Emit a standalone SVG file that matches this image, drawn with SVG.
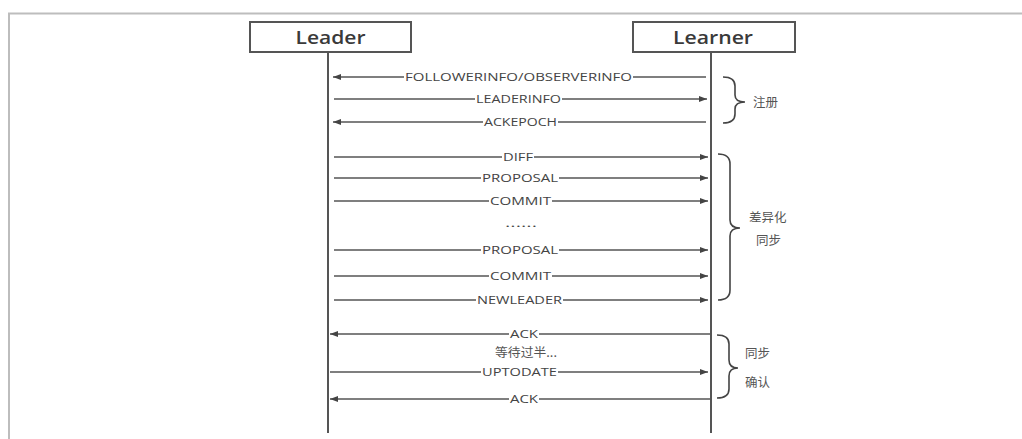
<svg xmlns="http://www.w3.org/2000/svg" width="1022" height="439" viewBox="0 0 1022 439">
<style>
.frame{fill:none;stroke:#bdbdbd;stroke-width:2}
.box{fill:#fff;stroke:#555;stroke-width:2}
.hdr{font-family:"Open Sans","Liberation Sans",sans-serif;font-size:18px;font-weight:600;fill:#3a3a3a;text-anchor:middle}
.life{stroke:#555;stroke-width:2}
.msg{fill:none;stroke:#555;stroke-width:1.4}
.lbl{font-family:"Open Sans","Liberation Sans",sans-serif;font-size:11.5px;fill:#444;text-anchor:middle}
.cn{font-family:"Noto Sans CJK SC","Noto Sans",sans-serif;font-size:12.5px;fill:#555}
.brace{fill:none;stroke:#444;stroke-width:1.6}
</style>
<defs>
<marker id="ah" markerUnits="userSpaceOnUse" markerWidth="9" markerHeight="7" refX="8" refY="3.5" orient="auto">
<path d="M0,0.5 L8,3.5 L0,6.5 z" fill="#444"/>
</marker>
</defs>
<rect width="1022" height="439" fill="#fff"/>
<path class="frame" d="M9,439 V13.5 H1022"/>

<g id="leader">
<rect class="box" x="250" y="22" width="161" height="30"/>
<text class="hdr" x="330.5" y="44" textLength="70" lengthAdjust="spacingAndGlyphs">Leader</text>
<line class="life" x1="328" y1="52" x2="328" y2="433"/>
</g>
<g id="learner">
<rect class="box" x="633" y="22" width="162" height="30"/>
<text class="hdr" x="713" y="44" textLength="80" lengthAdjust="spacingAndGlyphs">Learner</text>
<line class="life" x1="711" y1="52" x2="711" y2="433"/>
</g>

<g id="connectors">
<path class="msg" marker-end="url(#ah)" d="M706,77 H633 M404,77 H333"/>
<path class="msg" marker-end="url(#ah)" d="M334,99 H475 M562,99 H707"/>
<path class="msg" marker-end="url(#ah)" d="M706,122 H558 M483,122 H333"/>
<path class="msg" marker-end="url(#ah)" d="M334,157 H502 M534,157 H708"/>
<path class="msg" marker-end="url(#ah)" d="M334,178 H481 M559,178 H708"/>
<path class="msg" marker-end="url(#ah)" d="M334,201 H489 M552,201 H708"/>
<path class="msg" marker-end="url(#ah)" d="M334,250 H481 M559,250 H708"/>
<path class="msg" marker-end="url(#ah)" d="M334,276 H489 M552,276 H708"/>
<path class="msg" marker-end="url(#ah)" d="M334,300 H476 M563,300 H708"/>
<path class="msg" marker-end="url(#ah)" d="M710,334 H539 M509,334 H330"/>
<path class="msg" marker-end="url(#ah)" d="M330,372 H481 M558,372 H708"/>
<path class="msg" marker-end="url(#ah)" d="M710,399 H539 M509,399 H330"/>
</g>

<g id="labels">
<text class="lbl" x="518.5" y="81" textLength="227" lengthAdjust="spacingAndGlyphs">FOLLOWERINFO/OBSERVERINFO</text>
<text class="lbl" x="518.5" y="103" textLength="85" lengthAdjust="spacingAndGlyphs">LEADERINFO</text>
<text class="lbl" x="520.5" y="126" textLength="73" lengthAdjust="spacingAndGlyphs">ACKEPOCH</text>
<text class="lbl" x="518" y="161" textLength="30" lengthAdjust="spacingAndGlyphs">DIFF</text>
<text class="lbl" x="520" y="182" textLength="76" lengthAdjust="spacingAndGlyphs">PROPOSAL</text>
<text class="lbl" x="520.5" y="205" textLength="61" lengthAdjust="spacingAndGlyphs">COMMIT</text>
<text class="lbl" x="521" y="227" textLength="32" lengthAdjust="spacingAndGlyphs">......</text>
<text class="lbl" x="520" y="254" textLength="76" lengthAdjust="spacingAndGlyphs">PROPOSAL</text>
<text class="lbl" x="520.5" y="280" textLength="61" lengthAdjust="spacingAndGlyphs">COMMIT</text>
<text class="lbl" x="519.5" y="304" textLength="85" lengthAdjust="spacingAndGlyphs">NEWLEADER</text>
<text class="lbl" x="524" y="338" textLength="28" lengthAdjust="spacingAndGlyphs">ACK</text>
<text class="cn" x="526" y="357" text-anchor="middle" textLength="62" lengthAdjust="spacingAndGlyphs">等待过半...</text>
<text class="lbl" x="519.5" y="376" textLength="75" lengthAdjust="spacingAndGlyphs">UPTODATE</text>
<text class="lbl" x="524" y="403" textLength="28" lengthAdjust="spacingAndGlyphs">ACK</text>
</g>

<g id="brace-register">
<path class="brace" d="M723,77 Q735,77 735,86 V95 Q735,102 745,102 Q735,102 735,109 V114 Q735,123 723,123"/>
<text class="cn" x="753" y="107">注册</text>
</g>
<g id="brace-diffsync">
<path class="brace" d="M718,154 Q730,154 730,164 V220 Q730,228 740,228 Q730,228 730,236 V290 Q730,300 718,300"/>
<text class="cn" x="749" y="222">差异化</text>
<text class="cn" x="756" y="245">同步</text>
</g>
<g id="brace-ack">
<path class="brace" d="M717,335 Q729,335 729,344 V360 Q729,368 738,368 Q729,368 729,376 V389 Q729,398 717,398"/>
<text class="cn" x="745" y="358">同步</text>
<text class="cn" x="745" y="387">确认</text>
</g>
</svg>
